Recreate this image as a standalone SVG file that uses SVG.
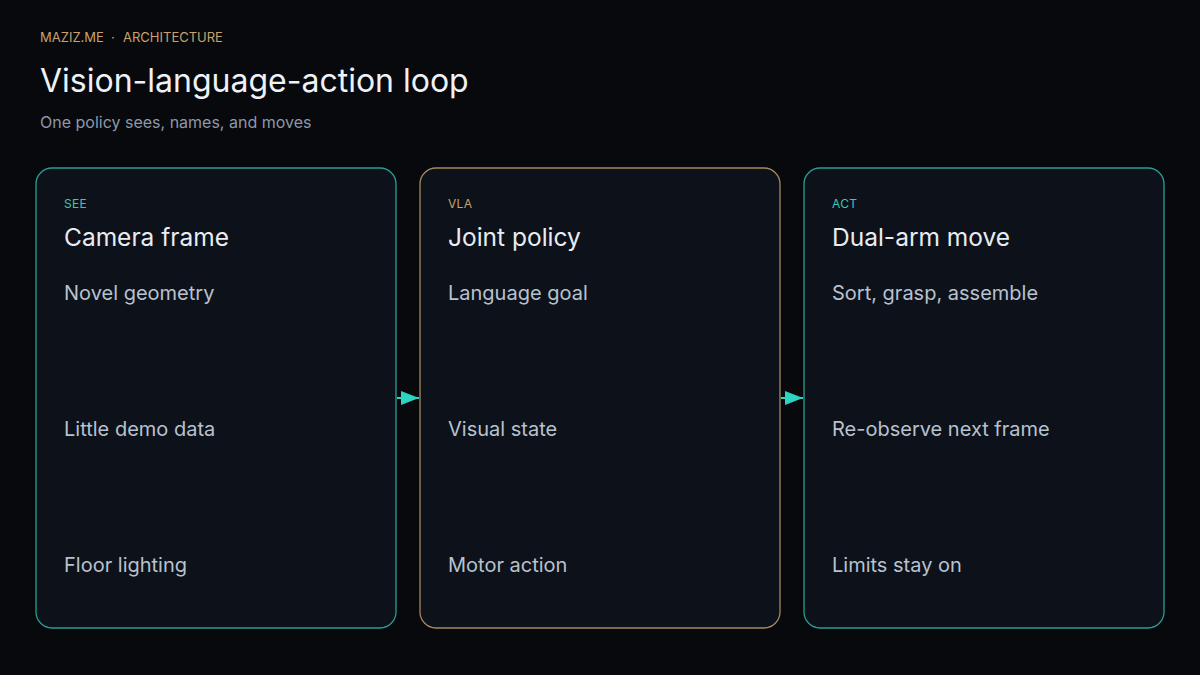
<svg xmlns="http://www.w3.org/2000/svg" width="1200" height="675" viewBox="0 0 1200 675">
<defs>
<style>
text{font-family:Inter,"Noto Sans","Liberation Sans",sans-serif}
.kicker{font-size:13px;fill:#c9a36b}
.title{font-size:32px;fill:#eef1f6}
.sub{font-size:16px;fill:#8e98a8}
.card{fill:#0d1119;stroke-width:1.3}
.teal{stroke:#2a9d93}
.gold{stroke:#a3895f}
.tag{font-size:12px;letter-spacing:0.3px}
.tagt{fill:#3cc9b4}
.tagg{fill:#c9a36b}
.head{font-size:24.5px;fill:#e8ecf2}
.item{font-size:20px;fill:#b8c2cf}
.conn{stroke:#2dd4bf;stroke-width:2;fill:none}
</style>
<marker id="ah2" viewBox="0 0 18 14" refX="18" refY="7" markerWidth="18" markerHeight="14" markerUnits="userSpaceOnUse" orient="auto">
<path d="M0,0 L18,7 L0,14 z" fill="#2dd4bf"/>
</marker>
</defs>
<rect width="1200" height="675" fill="#07090d"/>
<g id="header">
<text class="kicker" x="40" y="42">MAZIZ.ME</text>
<text class="kicker" x="111" y="42">·</text>
<text class="kicker" x="123" y="42">ARCHITECTURE</text>
<text class="title" x="40" y="92">Vision-language-action loop</text>
<text class="sub" x="40" y="128">One policy sees, names, and moves</text>
</g>
<g id="see">
<rect class="card teal" x="36" y="168" width="360" height="460" rx="16"/>
<text class="tag tagt" x="64" y="208">SEE</text>
<text class="head" x="64" y="246">Camera frame</text>
<text class="item" x="64" y="300">Novel geometry</text>
<text class="item" x="64" y="436">Little demo data</text>
<text class="item" x="64" y="572">Floor lighting</text>
</g>
<g id="vla">
<rect class="card gold" x="420" y="168" width="360" height="460" rx="16"/>
<text class="tag tagg" x="448" y="208">VLA</text>
<text class="head" x="448" y="246">Joint policy</text>
<text class="item" x="448" y="300">Language goal</text>
<text class="item" x="448" y="436">Visual state</text>
<text class="item" x="448" y="572">Motor action</text>
</g>
<g id="act">
<rect class="card teal" x="804" y="168" width="360" height="460" rx="16"/>
<text class="tag tagt" x="832" y="208">ACT</text>
<text class="head" x="832" y="246">Dual-arm move</text>
<text class="item" x="832" y="300">Sort, grasp, assemble</text>
<text class="item" x="832" y="436">Re-observe next frame</text>
<text class="item" x="832" y="572">Limits stay on</text>
</g>
<g id="connectors">
<line class="conn" x1="397" y1="398" x2="419" y2="398" marker-end="url(#ah2)"/>
<line class="conn" x1="781" y1="398" x2="803" y2="398" marker-end="url(#ah2)"/>
</g>
</svg>
